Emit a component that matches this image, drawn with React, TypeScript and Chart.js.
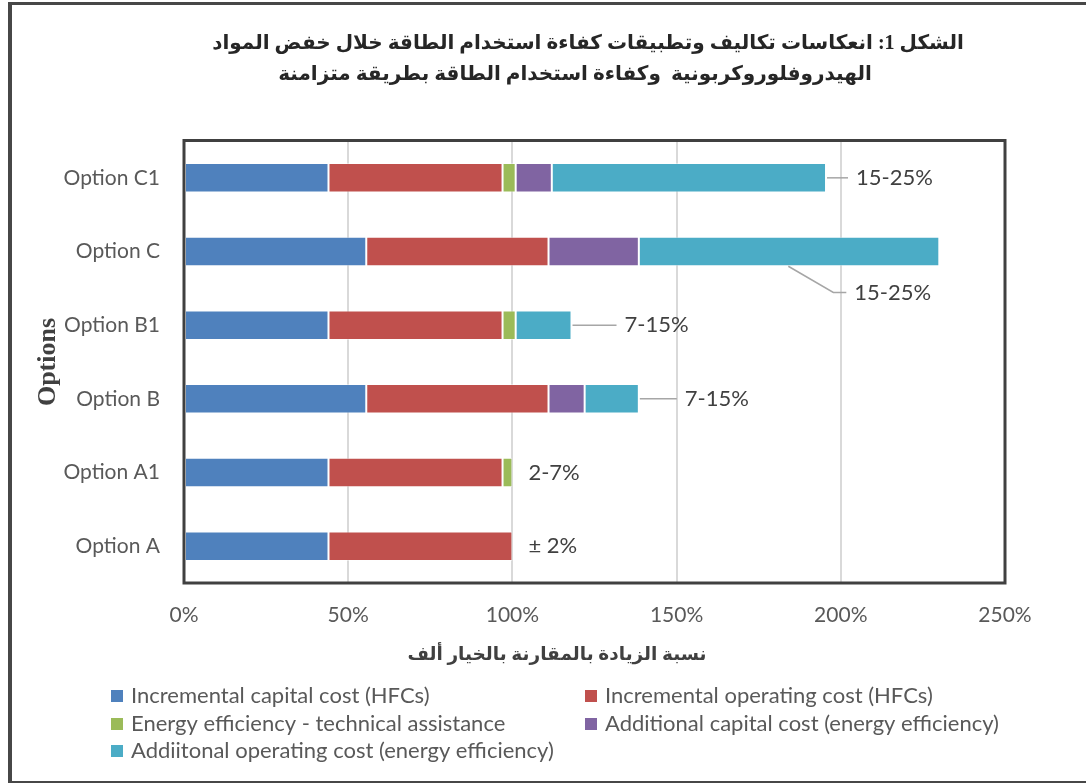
import React, { useEffect, useRef } from 'react';
import { Chart, registerables } from 'chart.js';

Chart.register(...registerables);

// ---------- data ----------
const categories = ['Option C1', 'Option C', 'Option B1', 'Option B', 'Option A1', 'Option A'];
const incrementalCapitalHFC = [44, 55.5, 44, 55.5, 44, 44];
const incrementalOperatingHFC = [53, 55.5, 53, 55.5, 53, 56];
const eeTechnicalAssistance = [4, null, 4, null, 3, null];
const additionalCapitalEE = [11, 27.5, null, 11, null, null];
const additionalOperatingEE = [83.5, 91.5, 17, 16.5, null, null];
const rangeLabels = ['15-25%', '15-25%', '7-15%', '7-15%', '2-7%', '± 2%'];
const seriesNames = [
  'Incremental capital cost (HFCs)',
  'Incremental operating cost (HFCs)',
  'Energy efficiency - technical assistance',
  'Additional capital cost (energy efficiency)',
  'Addiitonal operating cost (energy efficiency)',
];
const xTickValues = [0, 50, 100, 150, 200, 250];
const titleLines = [
  'الشكل 1: انعكاسات تكاليف وتطبيقات كفاءة استخدام الطاقة خلال خفض المواد',
  'الهيدروفلوروكربونية  وكفاءة استخدام الطاقة بطريقة متزامنة',
];
const xAxisTitle = 'نسبة الزيادة بالمقارنة بالخيار ألف';
const yAxisTitle = 'Options';

// ---------- styles / layout ----------
const seriesColors = ['#4f81bd', '#c0504d', '#9bbb59', '#8064a2', '#4bacc6'];
const annotationLayout = [
  { dx: 30, dy: 0, leader: 'h' },
  { dx: -85, dy: 41, leader: 'elbow', sx: -151 },
  { dx: 53, dy: 0, leader: 'h' },
  { dx: 46, dy: 0, leader: 'h' },
  { dx: 16, dy: 0, leader: 'none' },
  { dx: 16, dy: 0, leader: 'none' },
];
const titlePos = [
  { x: 576, y: 39 },
  { x: 563, y: 70 },
];
const xTitlePos = { x: 545, y: 650 };
const legendCols = [99, 573];
const legendRows = [691, 719, 746];
const LABEL_FONT = "Lato, 'Liberation Sans', sans-serif";
const ARABIC_FONT = "'Liberation Serif', 'DejaVu Sans', serif";

const seriesData = [
  incrementalCapitalHFC,
  incrementalOperatingHFC,
  eeTechnicalAssistance,
  additionalCapitalEE,
  additionalOperatingEE,
];

const overlayPlugin = {
  id: 'overlay',
  afterDraw(chart: any) {
    const ctx: CanvasRenderingContext2D = chart.ctx;
    const { left, right, top, bottom } = chart.chartArea;
    const xs = chart.scales.x;
    const ys = chart.scales.y;
    ctx.save();

    // plot border
    ctx.strokeStyle = '#404040';
    ctx.lineWidth = 3;
    ctx.strokeRect(left, top - 0.5, right - left, bottom - top + 0.5);

    // annotations
    const catH = (bottom - top) / categories.length;
    const halfBar = (catH * 0.4) / 2;
    ctx.font = `22px ${LABEL_FONT}`;
    ctx.textBaseline = 'middle';
    ctx.textAlign = 'left';
    categories.forEach((_, i) => {
      const total = seriesData.reduce((s, arr) => s + ((arr[i] as number) || 0), 0);
      const xEnd = xs.getPixelForValue(total);
      const yC = ys.getPixelForValue(i);
      const L: any = annotationLayout[i];
      const lx = xEnd + L.dx;
      const ly = yC + L.dy;
      ctx.strokeStyle = '#a6a6a6';
      ctx.lineWidth = 1.5;
      if (L.leader === 'h') {
        ctx.beginPath();
        ctx.moveTo(xEnd + 1, ly);
        ctx.lineTo(lx - 8, ly);
        ctx.stroke();
      } else if (L.leader === 'elbow') {
        ctx.beginPath();
        ctx.moveTo(xEnd + L.sx, yC + halfBar);
        ctx.lineTo(lx - 21, ly);
        ctx.lineTo(lx - 8, ly);
        ctx.stroke();
      }
      ctx.fillStyle = '#404040';
      ctx.fillText(rangeLabels[i], lx, ly);
    });

    // title
    ctx.fillStyle = '#262626';
    ctx.textAlign = 'center';
    ctx.textBaseline = 'middle';
    (ctx as any).direction = 'rtl';
    ctx.font = `bold 20px ${ARABIC_FONT}`;
    titleLines.forEach((t, i) => ctx.fillText(t, titlePos[i].x, titlePos[i].y));

    // x axis title
    ctx.fillStyle = '#404040';
    ctx.font = `bold 18.5px ${ARABIC_FONT}`;
    ctx.fillText(xAxisTitle, xTitlePos.x, xTitlePos.y);
    (ctx as any).direction = 'ltr';

    // legend
    ctx.textAlign = 'left';
    ctx.font = `22px ${LABEL_FONT}`;
    seriesNames.forEach((name, i) => {
      const col = i % 2;
      const row = Math.floor(i / 2);
      const x = legendCols[col];
      const y = legendRows[row];
      ctx.fillStyle = seriesColors[i];
      ctx.fillRect(x, y - 6, 12, 12);
      ctx.fillStyle = '#595959';
      ctx.fillText(name, x + 20, y);
    });

    ctx.restore();
  },
};

export default function App() {
  const ref = useRef<HTMLCanvasElement | null>(null);

  useEffect(() => {
    if (!ref.current) return;
    const chart = new Chart(ref.current, {
      type: 'bar',
      data: {
        labels: categories,
        datasets: seriesData.map((d, i) => ({
          label: seriesNames[i],
          data: d,
          backgroundColor: seriesColors[i],
          borderColor: 'rgba(255,255,255,0.45)',
          borderWidth: 1,
          borderSkipped: false,
          categoryPercentage: 1,
          barPercentage: 0.4,
        })),
      },
      options: {
        indexAxis: 'y',
        responsive: false,
        animation: false,
        layout: { padding: { left: 20, right: 81, top: 136, bottom: 0 } },
        plugins: {
          legend: { display: false },
          title: { display: false },
          tooltip: { enabled: false },
        },
        scales: {
          x: {
            stacked: true,
            min: 0,
            max: 250,
            afterBuildTicks: (scale: any) => {
              scale.ticks = xTickValues.map((v) => ({ value: v }));
            },
            afterFit: (scale: any) => {
              scale.height = 776 - 578;
            },
            grid: { color: '#d9d9d9', lineWidth: 2, drawTicks: false },
            border: { display: false },
            ticks: {
              padding: 20,
              color: '#595959',
              font: { family: LABEL_FONT, size: 21 },
              callback: (v: any) => `${v}%`,
            },
          },
          y: {
            stacked: true,
            afterFit: (scale: any) => {
              scale.width = 152;
            },
            grid: { display: false, drawTicks: false },
            border: { display: false },
            ticks: {
              padding: 24,
              color: '#595959',
              font: { family: LABEL_FONT, size: 21 },
            },
            title: {
              display: true,
              text: yAxisTitle,
              color: '#404040',
              padding: { top: 1, bottom: 0 },
              font: { family: "'Liberation Serif', serif", size: 26, weight: 'bold' },
            },
          },
        },
      },
      plugins: [overlayPlugin],
    } as any);
    return () => chart.destroy();
  }, []);

  return (
    <div
      style={{
        position: 'absolute',
        left: 8,
        top: 2,
        width: 1078,
        height: 781,
        boxSizing: 'border-box',
        borderLeft: '4px solid #474747',
        borderTop: '3px solid #474747',
        borderBottom: '2px solid #474747',
        background: '#fff',
      }}
    >
      <canvas ref={ref} width={1074} height={776} style={{ display: 'block', width: 1074, height: 776 }} />
    </div>
  );
}
